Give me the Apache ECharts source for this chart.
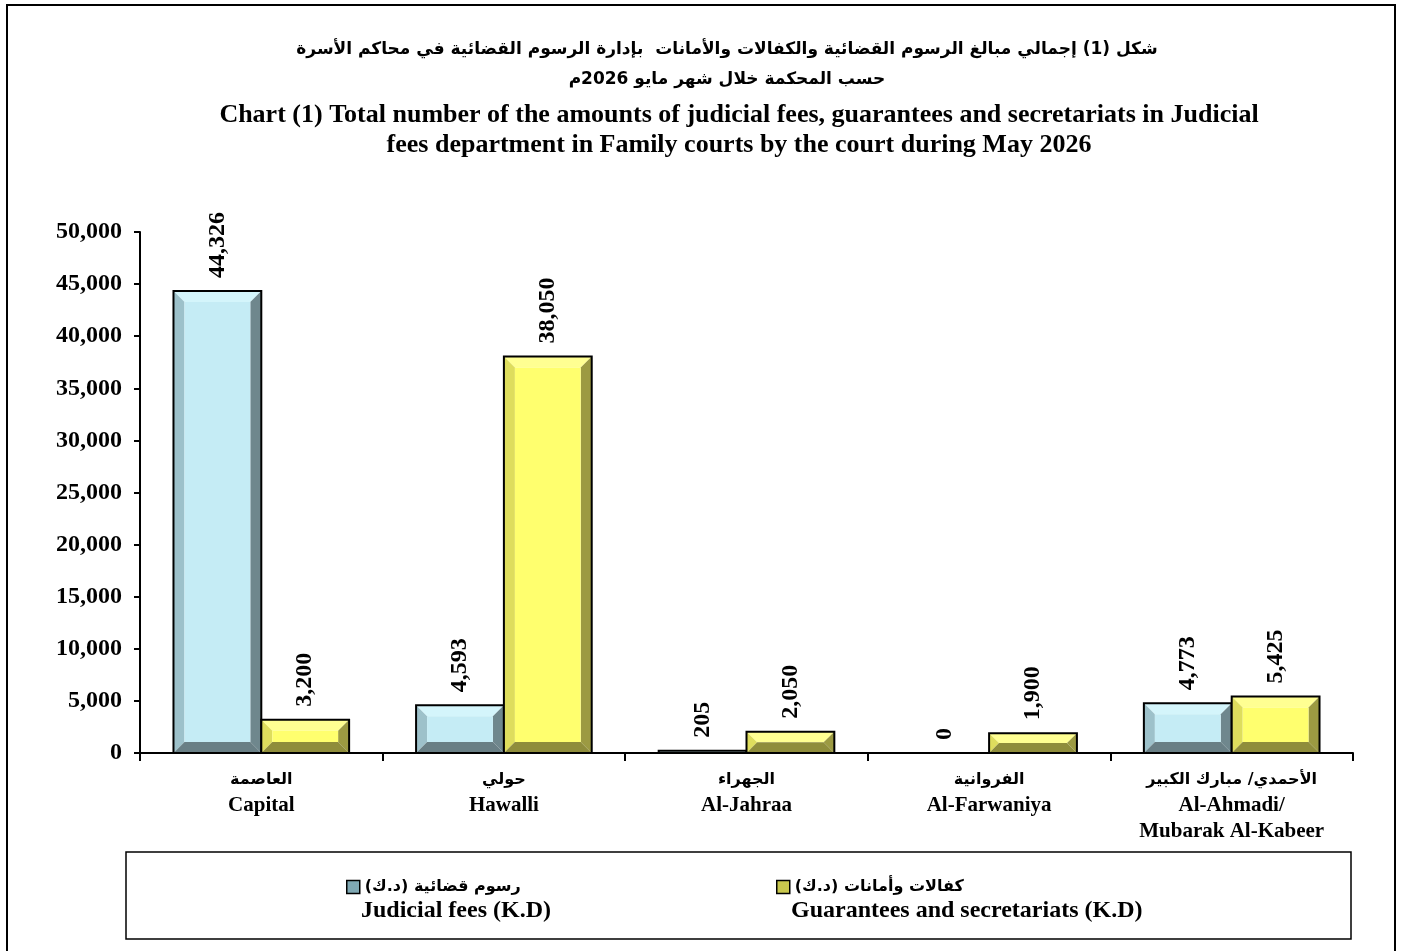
<!DOCTYPE html>
<html>
<head>
<meta charset="utf-8">
<script src="https://cdn.jsdelivr.net/npm/echarts@6/dist/echarts.min.js"></script>
<style>
  html, body { margin: 0; padding: 0; background: #fff; }
  #main { width: 1402px; height: 951px; }
</style>
</head>
<body>
<div id="main"></div>
<script>
// categories: Arabic line + English line(s)
var catAr = ['العاصمة', 'حولي', 'الجهراء', 'الفروانية', 'الأحمدي/ مبارك الكبير'];
var catEn = ['Capital', 'Hawalli', 'Al-Jahraa', 'Al-Farwaniya', 'Al-Ahmadi/\nMubarak Al-Kabeer'];

// values (K.D)
var judicialFees = [44326, 4593, 205, 0, 4773];
var guarantees = [3200, 38050, 2050, 1900, 5425];

var yTicks = { min: 0, max: 50000, interval: 5000 };

var serif = "'Liberation Serif', 'Times New Roman', 'DejaVu Sans', serif";
var arFont = "'DejaVu Sans', 'Liberation Sans', sans-serif";

var nameJud = 'رسوم قضائية (د.ك)';
var nameGua = 'كفالات وأمانات (د.ك)';

// bevel palettes: face, top, left, right, bottom
var bluePal = { face: '#C5ECF5', top: '#D4F5FB', left: '#9DC1CA', right: '#6F878D', bottom: '#697F85' };
var yellowPal = { face: '#FFFF6E', top: '#FFFF92', left: '#DEDD5D', right: '#9C9A42', bottom: '#8F8D3B' };

var chart = echarts.init(document.getElementById('main'));

function fmt(v) {
  return v.toLocaleString('en-US');
}

// draws a bevelled bar, side 0 = left of category centre, 1 = right
function makeRender(side, pal) {
  return function (params, api) {
    var idx = api.value(0);
    var val = api.value(1);
    var band = api.size([1, 0])[0];
    var w = band * 0.362;
    var c = api.coord([idx, val]);
    var base = api.coord([idx, 0]);
    var x = side === 0 ? c[0] - w : c[0];
    var y = c[1];
    var h = base[1] - c[1];
    var children = [];
    if (h > 0.5) {
      var d = Math.min(11, h / 2, w / 2);
      children.push(
        { type: 'polygon', shape: { points: [[x, y], [x + w, y], [x + w - d, y + d], [x + d, y + d]] }, style: { fill: pal.top } },
        { type: 'polygon', shape: { points: [[x, y], [x + d, y + d], [x + d, y + h - d], [x, y + h]] }, style: { fill: pal.left } },
        { type: 'polygon', shape: { points: [[x + w, y], [x + w, y + h], [x + w - d, y + h - d], [x + w - d, y + d]] }, style: { fill: pal.right } },
        { type: 'polygon', shape: { points: [[x, y + h], [x + d, y + h - d], [x + w - d, y + h - d], [x + w, y + h]] }, style: { fill: pal.bottom } },
        { type: 'rect', shape: { x: x + d, y: y + d, width: Math.max(0, w - 2 * d), height: Math.max(0, h - 2 * d) }, style: { fill: pal.face } },
        { type: 'rect', shape: { x: x, y: y, width: w, height: h }, style: { fill: null, stroke: '#000', lineWidth: 2 } }
      );
    }
    children.push({
      type: 'text',
      x: x + w / 2,
      y: y - 13,
      rotation: Math.PI / 2,
      style: {
        text: fmt(val),
        align: 'left',
        verticalAlign: 'middle',
        font: 'bold 24px ' + serif,
        fill: '#000'
      }
    });
    return { type: 'group', children: children };
  };
}

function toData(arr) {
  return arr.map(function (v, i) { return [i, v]; });
}

var option = {
  backgroundColor: '#fff',
  animation: false,
  title: [
    {
      left: 722,
      top: 30,
      textAlign: 'center',
      text: 'شكل (1) إجمالي مبالغ الرسوم القضائية والكفالات والأمانات  بإدارة الرسوم القضائية في محاكم الأسرة\n' +
            'حسب المحكمة خلال شهر مايو 2026م',
      textStyle: { fontFamily: arFont, fontWeight: 'bold', fontSize: 17, lineHeight: 30, color: '#000', align: 'center' }
    },
    {
      left: 734,
      top: 95,
      textAlign: 'center',
      text: 'Chart (1) Total number of the amounts of judicial fees, guarantees and secretariats in Judicial\n' +
            'fees department in Family courts by the court during May 2026',
      textStyle: { fontFamily: serif, fontWeight: 'bold', fontSize: 26, lineHeight: 30, color: '#000', align: 'center' }
    }
  ],
  legend: [
    {
      left: 341, top: 874,
      icon: 'rect', itemWidth: 13, itemHeight: 13, itemGap: 10,
      data: [{ name: nameJud, itemStyle: { color: '#7FA8B3', borderColor: '#000', borderWidth: 1.5 } }],
      textStyle: { fontFamily: arFont, fontWeight: 'bold', fontSize: 16, color: '#000' }
    },
    {
      left: 771, top: 874,
      icon: 'rect', itemWidth: 13, itemHeight: 13, itemGap: 10,
      data: [{ name: nameGua, itemStyle: { color: '#C9C84E', borderColor: '#000', borderWidth: 1.5 } }],
      textStyle: { fontFamily: arFont, fontWeight: 'bold', fontSize: 16, color: '#000' }
    }
  ],
  graphic: [
    { type: 'rect', shape: { x: 7, y: 5, width: 1388, height: 960 }, style: { fill: null, stroke: '#000', lineWidth: 2 }, silent: true },
    { type: 'rect', shape: { x: 126, y: 852, width: 1225, height: 87 }, style: { fill: null, stroke: '#000', lineWidth: 1.5 }, silent: true },
    { type: 'text', x: 361, y: 911, style: { text: 'Judicial fees (K.D)', font: 'bold 24px ' + serif, fill: '#000', verticalAlign: 'middle' } },
    { type: 'text', x: 791, y: 911, style: { text: 'Guarantees and secretariats (K.D)', font: 'bold 24px ' + serif, fill: '#000', verticalAlign: 'middle' } }
  ],
  grid: { left: 140, right: 49, top: 232, bottom: 198, containLabel: false },
  xAxis: {
    type: 'category',
    data: catAr.map(function (a, i) { return a + '|' + catEn[i]; }),
    axisLine: { lineStyle: { color: '#000', width: 2 } },
    axisTick: { show: true, length: 8, lineStyle: { color: '#000', width: 2 } },
    axisLabel: {
      interval: 0,
      margin: 14,
      lineHeight: 26,
      formatter: function (v) {
        var p = v.split('|');
        return '{ar|' + p[0] + '}\n' + p[1].split('\n').map(function (s) { return '{en|' + s + '}'; }).join('\n');
      },
      rich: {
        ar: { fontFamily: arFont, fontWeight: 'bold', fontSize: 16, lineHeight: 26, color: '#000' },
        en: { fontFamily: serif, fontWeight: 'bold', fontSize: 21, lineHeight: 26, color: '#000' }
      }
    }
  },
  yAxis: {
    type: 'value',
    min: yTicks.min,
    max: yTicks.max,
    interval: yTicks.interval,
    splitLine: { show: false },
    axisLine: { show: true, lineStyle: { color: '#000', width: 2 } },
    axisTick: { show: true, length: 6, lineStyle: { color: '#000', width: 2 } },
    axisLabel: {
      margin: 18,
      formatter: function (v) { return fmt(v); },
      fontFamily: serif, fontWeight: 'bold', fontSize: 24, color: '#000'
    }
  },
  series: [
    {
      name: nameJud,
      type: 'custom',
      itemStyle: { color: '#7FA8B3' },
      encode: { x: 0, y: 1 },
      data: toData(judicialFees),
      renderItem: makeRender(0, bluePal)
    },
    {
      name: nameGua,
      type: 'custom',
      itemStyle: { color: '#C9C84E' },
      encode: { x: 0, y: 1 },
      data: toData(guarantees),
      renderItem: makeRender(1, yellowPal)
    }
  ]
};

chart.setOption(option);
</script>
</body>
</html>
